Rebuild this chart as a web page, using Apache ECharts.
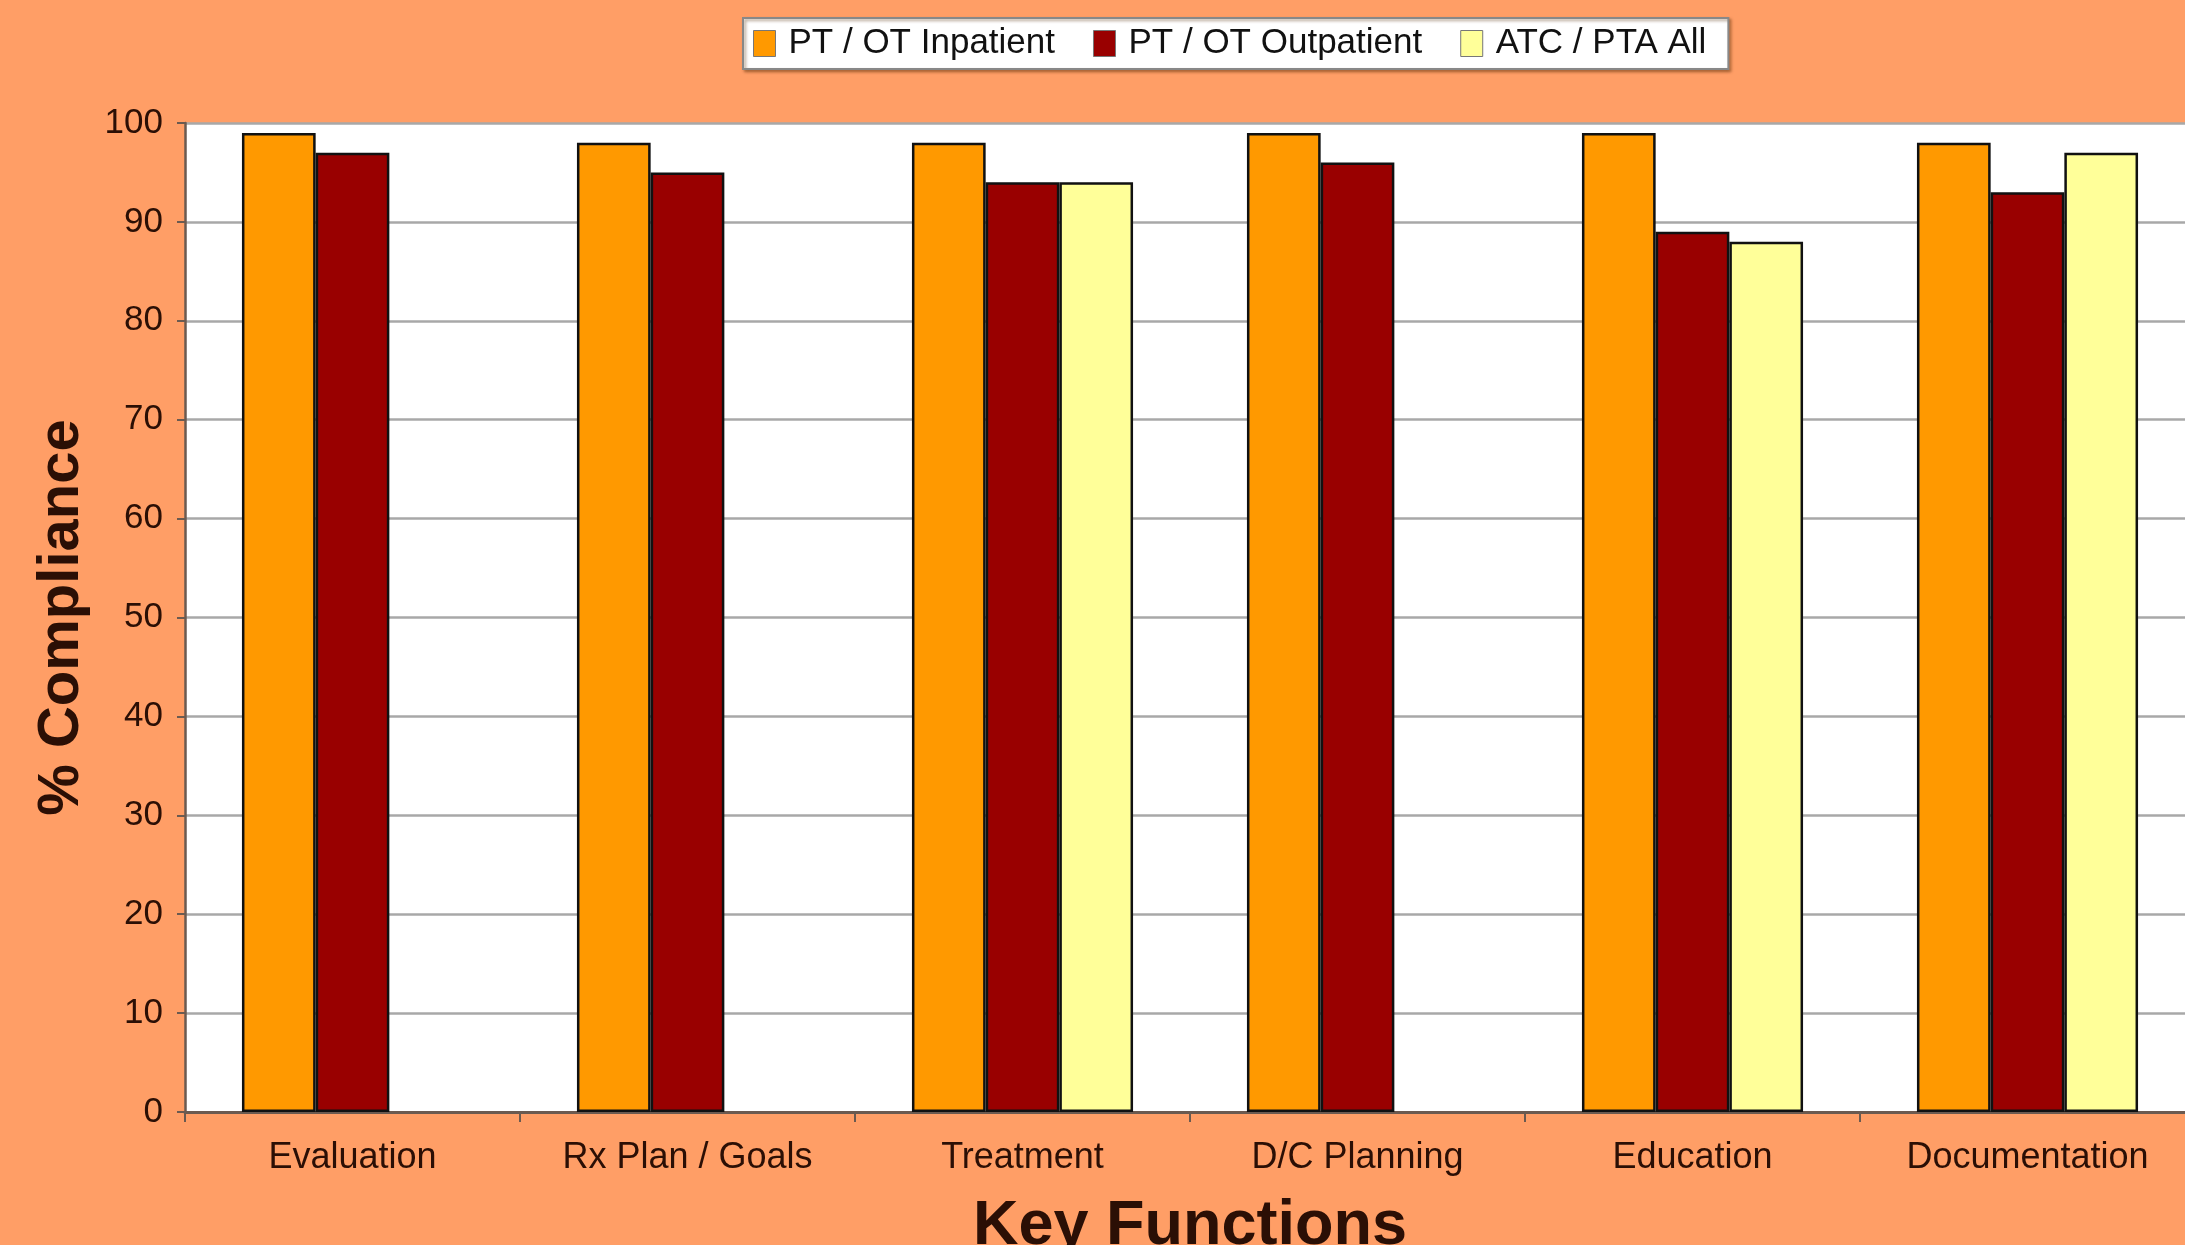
<!DOCTYPE html>
<html>
<head>
<meta charset="utf-8">
<script src="https://cdn.jsdelivr.net/npm/echarts@6/dist/echarts.min.js"></script>
<style>
  html, body { margin: 0; padding: 0; background: #FF9E66; }
  #chart { width: 2185px; height: 1245px; }
</style>
</head>
<body>
<div id="chart"></div>
<script>
// Compliance by key function, per service group
const categories = ['Evaluation', 'Rx Plan / Goals', 'Treatment', 'D/C Planning', 'Education', 'Documentation'];
const ptOtInpatient = [99, 98, 98, 99, 99, 98];
const ptOtOutpatient = [97, 95, 94, 96, 89, 93];
const atcPtaAll = [null, null, 94, null, 88, 97];
const seriesNames = ['PT / OT Inpatient', 'PT / OT Outpatient', 'ATC / PTA All'];
const seriesColors = ['#FF9900', '#990000', '#FFFF99'];

const textColor = '#2b0f05';
const font = 'Liberation Sans, Arial, sans-serif';

const chart = echarts.init(document.getElementById('chart'));

const makeBar = (name, data, color) => ({
  name: name,
  type: 'bar',
  data: data,
  barGap: '0%',
  barCategoryGap: '34%',
  itemStyle: { color: color, borderColor: '#111', borderWidth: 2.5 },
  emphasis: { disabled: true }
});

chart.setOption({
  backgroundColor: '#FF9E66',
  animation: false,
  textStyle: { fontFamily: font },
  legend: {
    top: 18,
    left: 743,
    padding: [8, 22, 8, 10],
    itemGap: 38,
    itemWidth: 22,
    itemHeight: 26,
    icon: 'rect',
    backgroundColor: '#ffffff',
    borderColor: '#888',
    borderWidth: 2,
    shadowColor: 'rgba(80,40,0,0.45)',
    shadowBlur: 3,
    shadowOffsetX: 2,
    shadowOffsetY: 2,
    textStyle: { fontSize: 35, color: '#111', fontFamily: font, padding: [0, 0, 0, 8] },
    data: seriesNames.map((n) => ({ name: n, itemStyle: { borderColor: '#777', borderWidth: 1 } }))
  },
  grid: {
    left: 185, right: -10, top: 123, bottom: 133,
    outerBoundsMode: 'none', containLabel: false,
    backgroundColor: '#ffffff', show: true, borderWidth: 0
  },
  xAxis: {
    type: 'category',
    data: categories,
    name: 'Key Functions',
    nameLocation: 'middle',
    nameGap: 83,
    nameTextStyle: { fontSize: 63, fontWeight: 'bold', color: textColor, fontFamily: font },
    axisLine: { lineStyle: { color: '#6b5a50', width: 3 } },
    axisTick: { show: true, length: 10, lineStyle: { color: '#6b5a50', width: 2 } },
    axisLabel: { fontSize: 36, color: textColor, margin: 28, fontFamily: font }
  },
  yAxis: {
    type: 'value',
    min: 0,
    max: 100,
    interval: 10,
    name: '% Compliance',
    nameLocation: 'middle',
    nameGap: 94,
    nameRotate: 90,
    nameTextStyle: { fontSize: 58, fontWeight: 'bold', color: textColor, fontFamily: font },
    axisLine: { show: true, lineStyle: { color: '#6b5a50', width: 2.5 } },
    axisTick: { show: true, length: 8, lineStyle: { color: '#6b5a50', width: 2 } },
    axisLabel: { fontSize: 35, color: textColor, margin: 22, fontFamily: font },
    splitLine: { lineStyle: { color: '#a8a8a8', width: 2.5 } }
  },
  series: [
    makeBar(seriesNames[0], ptOtInpatient, seriesColors[0]),
    makeBar(seriesNames[1], ptOtOutpatient, seriesColors[1]),
    makeBar(seriesNames[2], atcPtaAll, seriesColors[2])
  ]
});
</script>
</body>
</html>
